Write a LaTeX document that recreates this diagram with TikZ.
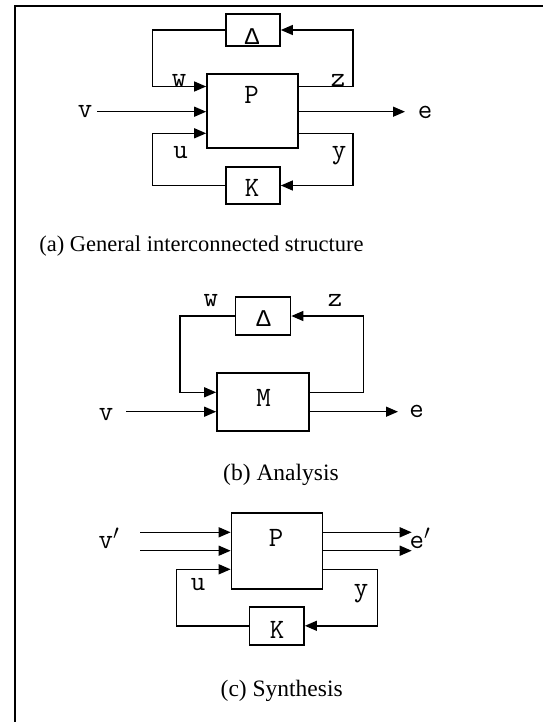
\documentclass[tikz,border=0pt]{standalone}
\usepackage{fontspec}
\setmainfont{Liberation Serif}
\newfontfamily\deltafont{Liberation Mono}
\usetikzlibrary{arrows.meta, positioning, calc}

\begin{document}
\begin{tikzpicture}[x=1bp, y=-1bp]
    % Define styles
    \tikzset{
        blockbox/.style={draw, rectangle, line width=1.7bp, inner sep=0pt},
        sig/.style={line width=1.4bp, -{Triangle[length=12bp, width=10bp]}},
        lbl/.style={font=\ttfamily\fontsize{28bp}{30bp}\selectfont, inner sep=0pt, anchor=base},
        dlbl/.style={lbl, font=\deltafont\fontsize{24bp}{26bp}\selectfont},
        capt/.style={font=\fontsize{22.5bp}{26bp}\selectfont, inner sep=0pt, anchor=base}
    }
    \useasboundingbox (0,0) rectangle (543,722);
    % frame (top and left edge only)
    \draw[line width=2bp] (14.5,722) -- (14.5,6.5) -- (543,6.5);

    % (a) General interconnected structure
    \node[blockbox, minimum width=91bp, minimum height=74bp] (pa) at (252.5,111) {};
    \node[blockbox, minimum width=54bp, minimum height=32bp] (dela) at (253,30) {};
    \node[blockbox, minimum width=54bp, minimum height=37bp] (ka) at (253,185.5) {};
    \node[lbl] (pa-t) at (251.5,104) {P};
    \node[dlbl] (dela-t) at (252,45) {Δ};
    \node[lbl] (ka-t) at (252,196.5) {K};
    \coordinate (wa) at (152.7,86.5);
    \coordinate (za) at (353,86.5);
    \coordinate (ua) at (152.7,133.3);
    \coordinate (ya) at (353,133.3);
    \coordinate (va) at (97,111.7);
    \coordinate (ea) at (405,111.7);
    \draw[sig] (dela.west) -| (wa) -- (wa -| pa.west);
    \draw[sig] (za -| pa.east) -- (za) |- (dela.east);
    \draw[sig] (ka.west) -| (ua) -- (ua -| pa.west);
    \draw[sig] (ya -| pa.east) -- (ya) |- (ka.east);
    \draw[sig] (va) -- (va -| pa.west);
    \draw[sig] (ea -| pa.east) -- (ea);
    \node[lbl] (wa-t) at (179,87) {w};
    \node[lbl] (za-t) at (338,87) {z};
    \node[lbl] (ua-t) at (180.5,158.5) {u};
    \node[lbl] (ya-t) at (339,158.5) {y};
    \node[lbl] (va-t) at (85,118) {v};
    \node[lbl] (ea-t) at (425,119) {e};
    \node[capt] (capa) at (201.5,251.5) {(a) General interconnected structure};

    % (b) Analysis
    \node[blockbox, minimum width=92bp, minimum height=58bp] (mb) at (263,401.7) {};
    \node[blockbox, minimum width=55bp, minimum height=38bp] (delb) at (263,316) {};
    \node[lbl] (mb-t) at (263.5,406.5) {M};
    \node[dlbl] (delb-t) at (263.5,326) {Δ};
    \coordinate (wb) at (180,392.3);
    \coordinate (zb) at (363.3,392.3);
    \coordinate (vb) at (126,411.7);
    \coordinate (eb) at (398,411.7);
    \draw[sig] (delb.west) -| (wb) -- (wb -| mb.west);
    \draw[sig] (zb -| mb.east) -- (zb) |- (delb.east);
    \draw[sig] (vb) -- (vb -| mb.west);
    \draw[sig] (eb -| mb.east) -- (eb);
    \node[lbl] (wb-t) at (210.8,306.5) {w};
    \node[lbl] (zb-t) at (335,306.5) {z};
    \node[lbl] (vb-t) at (106,420) {v};
    \node[lbl] (eb-t) at (416.7,417) {e};
    \node[capt, font=\fontsize{23.5bp}{27bp}\selectfont] (capb) at (281,480) {(b) Analysis};

    % (c) Synthesis
    \node[blockbox, minimum width=91bp, minimum height=75.7bp] (pc) at (277,551) {};
    \node[blockbox, minimum width=54.7bp, minimum height=38.3bp] (kc) at (276.7,625.8) {};
    \node[lbl] (pc-t) at (276,546.5) {P};
    \node[lbl] (kc-t) at (277,638) {K};
    % two outside inputs and outputs
    \foreach \y [count=\i] in {532.3, 550.7} {
        \coordinate (vc\i) at (140,\y);
        \coordinate (ec\i) at (411.7,\y);
        \draw[sig] (vc\i) -- (vc\i -| pc.west);
        \draw[sig] (ec\i -| pc.east) -- (ec\i);
    }
    \coordinate (uc) at (176.7,569.3);
    \coordinate (yc) at (377.7,569.3);
    \draw[sig] (kc.west) -| (uc) -- (uc -| pc.west);
    \draw[sig] (yc -| pc.east) -- (yc) |- (kc.east);
    \node[lbl] (vc-t) at (109,548.3) {v$'$};
    \node[lbl] (ec-t) at (420,548) {e$'$};
    \node[lbl] (uc-t) at (198,590) {u};
    \node[lbl] (yc-t) at (361,596) {y};
    \node[capt, font=\fontsize{23.5bp}{27bp}\selectfont] (capc) at (281.7,696) {(c) Synthesis};
\end{tikzpicture}
\end{document}
